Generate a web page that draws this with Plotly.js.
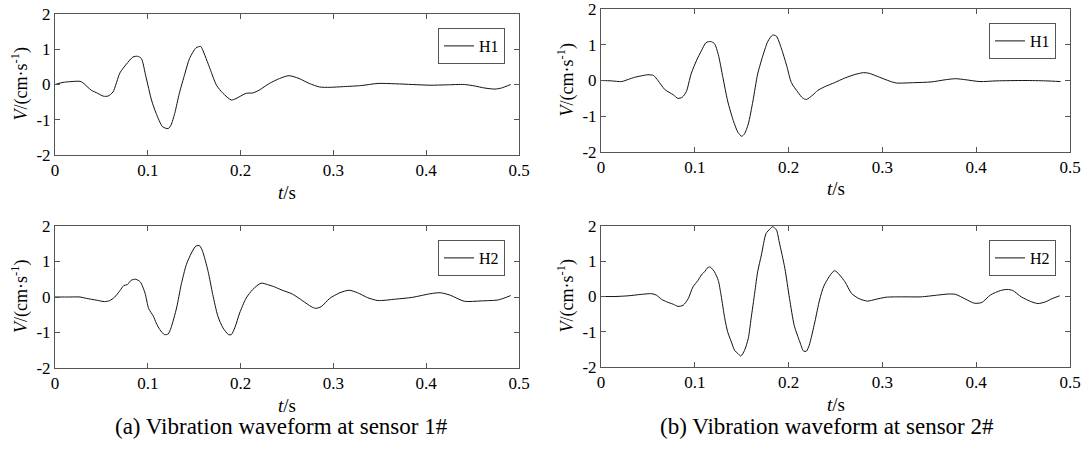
<!DOCTYPE html>
<html><head><meta charset="utf-8">
<script src="https://cdn.plot.ly/plotly-3.0.1.min.js"></script>
<style>html,body{margin:0;padding:0;background:#fff}#chart{width:1084px;height:450px}</style>
</head><body><div id="chart"></div>
<script>
// Sensor 1#, H1
const t1H1 = [0,0.0086,0.016,0.027,0.030,0.039,0.046,0.052,0.057,0.0625,0.070,0.077,0.084,0.089,0.093,0.098,0.104,0.109,0.116,0.122,0.125,0.129,0.134,0.140,0.145,0.152,0.157,0.159,0.167,0.174,0.181,0.190,0.195,0.206,0.213,0.220,0.231,0.242,0.252,0.263,0.274,0.285,0.296,0.311,0.33,0.348,0.367,0.385,0.404,0.422,0.441,0.452,0.463,0.474,0.481,0.491];
const v1H1 = [0,0.06,0.08,0.09,0.05,-0.16,-0.25,-0.33,-0.33,-0.21,0.33,0.58,0.78,0.80,0.74,0.22,-0.44,-0.82,-1.20,-1.25,-1.15,-0.82,-0.25,0.31,0.74,1.04,1.08,0.99,0.45,-0.02,-0.25,-0.44,-0.40,-0.25,-0.24,-0.16,0.03,0.17,0.25,0.17,0.03,-0.07,-0.08,-0.06,-0.03,0.03,0.02,0.0,-0.02,-0.01,0.0,-0.04,-0.10,-0.13,-0.10,0.0];
// Sensor 1#, H2
const t1H2 = [0,0.016,0.027,0.034,0.045,0.0535,0.059,0.064,0.070,0.074,0.078,0.082,0.087,0.092,0.097,0.101,0.106,0.109,0.113,0.118,0.122,0.125,0.131,0.136,0.1415,0.147,0.152,0.156,0.159,0.165,0.170,0.1755,0.181,0.187,0.190,0.194,0.199,0.206,0.213,0.222,0.229,0.237,0.244,0.256,0.267,0.276,0.281,0.287,0.296,0.307,0.317,0.326,0.337,0.348,0.367,0.385,0.404,0.415,0.426,0.441,0.459,0.478,0.491];
const v1H2 = [0,0,0,-0.04,-0.09,-0.13,-0.10,-0.01,0.18,0.32,0.35,0.47,0.50,0.42,0.11,-0.33,-0.54,-0.73,-0.92,-1.06,-1.04,-0.87,-0.31,0.35,0.91,1.24,1.44,1.44,1.29,0.72,0.07,-0.54,-0.87,-1.06,-1.06,-0.85,-0.45,-0.03,0.21,0.39,0.35,0.28,0.20,0.08,-0.11,-0.27,-0.32,-0.27,-0.04,0.12,0.19,0.12,-0.02,-0.10,-0.06,-0.01,0.09,0.12,0.05,-0.12,-0.11,-0.08,0.04];
// Sensor 2#, H1
const t2H1 = [0,0.011,0.022,0.029,0.036,0.043,0.050,0.056,0.061,0.068,0.077,0.082,0.0865,0.091,0.096,0.102,0.107,0.112,0.117,0.121,0.125,0.130,0.135,0.141,0.146,0.150,0.153,0.157,0.162,0.167,0.173,0.178,0.183,0.187,0.192,0.198,0.203,0.210,0.215,0.219,0.226,0.231,0.238,0.249,0.26,0.271,0.28,0.286,0.297,0.308,0.315,0.334,0.352,0.367,0.378,0.389,0.404,0.422,0.452,0.474,0.49];
const v2H1 = [0,-0.01,-0.03,0.03,0.09,0.13,0.16,0.14,-0.01,-0.25,-0.40,-0.50,-0.47,-0.31,0.18,0.57,0.83,1.06,1.09,1.03,0.73,0.08,-0.57,-1.12,-1.45,-1.56,-1.49,-1.22,-0.57,0.18,0.73,1.10,1.27,1.24,0.92,0.41,-0.06,-0.33,-0.49,-0.53,-0.40,-0.28,-0.18,-0.06,0.07,0.17,0.22,0.20,0.09,-0.02,-0.07,-0.06,-0.04,0.02,0.05,0.02,-0.03,-0.01,0,-0.01,-0.03];
// Sensor 2#, H2
const t2H2 = [0,0.015,0.029,0.043,0.054,0.059,0.0645,0.070,0.077,0.082,0.0875,0.093,0.098,0.1035,0.107,0.111,0.113,0.116,0.118,0.121,0.125,0.128,0.132,0.135,0.139,0.1425,0.146,0.149,0.153,0.157,0.160,0.164,0.167,0.171,0.176,0.180,0.183,0.187,0.190,0.196,0.201,0.206,0.212,0.216,0.219,0.222,0.228,0.233,0.238,0.249,0.26,0.267,0.275,0.284,0.293,0.304,0.322,0.341,0.359,0.37,0.378,0.389,0.398,0.406,0.415,0.426,0.433,0.439,0.448,0.459,0.466,0.474,0.481,0.489];
const v2H2 = [0,0,0.02,0.06,0.08,0.04,-0.08,-0.15,-0.22,-0.28,-0.25,-0.06,0.27,0.46,0.61,0.72,0.80,0.84,0.80,0.70,0.46,0.04,-0.63,-1.0,-1.29,-1.53,-1.62,-1.69,-1.53,-1.19,-0.63,0.13,0.70,1.18,1.79,1.91,1.98,1.89,1.55,0.80,-0.06,-0.82,-1.29,-1.55,-1.55,-1.38,-0.72,-0.10,0.32,0.73,0.42,0.09,-0.06,-0.13,-0.08,-0.02,-0.01,-0.01,0.04,0.07,0.06,-0.08,-0.19,-0.17,0.04,0.17,0.20,0.17,-0.01,-0.15,-0.20,-0.15,-0.06,0.02];

const xTicks = [0,0.1,0.2,0.3,0.4,0.5];
const xTickText = ['0','0.1','0.2','0.3','0.4','0.5'];
const yTicks = [-2,-1,0,1,2];
const yTickText = ['-2','-1','0','1','2'];
const seriesNames = ['H1','H2'];
const captions = ['(a) Vibration waveform at sensor 1#','(b) Vibration waveform at sensor 2#'];

const FONT = '"Liberation Serif", "Times New Roman", serif';
const W = 1084, H = 450;
const px = v => v / W, py = v => 1 - v / H;

// panel boxes in pixels: [left, right, top, bottom]
const panels = [
  {x:'x', y:'y', box:[55,519,14,155], t:t1H1, v:v1H1, name:seriesNames[0], leg:'legend'},
  {x:'x2', y:'y2', box:[601,1070,9,152], t:t2H1, v:v2H1, name:seriesNames[0], leg:'legend2'},
  {x:'x3', y:'y3', box:[55,519,226,368], t:t1H2, v:v1H2, name:seriesNames[1], leg:'legend3'},
  {x:'x4', y:'y4', box:[601,1070,226,367], t:t2H2, v:v2H2, name:seriesNames[1], leg:'legend4'}
];

const data = panels.map(p => ({
  type:'scatter', mode:'lines', x:p.t, y:p.v, xaxis:p.x, yaxis:p.y, name:p.name,
  legend:p.leg, line:{color:'#111', width:1, shape:'spline', smoothing:0.7}
}));

const layout = {
  width:W, height:H, margin:{l:0,r:0,t:0,b:0},
  paper_bgcolor:'#fff', plot_bgcolor:'#fff',
  font:{family:FONT, size:15, color:'#000'},
  annotations:[], showlegend:true
};

panels.forEach((p,i) => {
  const sfx = i === 0 ? '' : String(i+1);
  const [l,r,t,b] = p.box;
  const common = {
    ticks:'inside', ticklen:5, tickcolor:'#555', tickwidth:1,
    showline:true, linecolor:'#555', linewidth:1, mirror:'ticks',
    showgrid:false, zeroline:false, ticklabeloverflow:'allow',
    tickfont:{family:FONT,size:17,color:'#000'}
  };
  layout['xaxis'+sfx] = Object.assign({
    domain:[px(l), px(r)], range:[0,0.5], anchor:'y'+sfx,
    tickmode:'array', tickvals:xTicks, ticktext:xTickText
  }, common);
  layout['yaxis'+sfx] = Object.assign({
    domain:[py(b), py(t)], range:[-2,2], anchor:'x'+sfx,
    tickmode:'array', tickvals:yTicks, ticktext:yTickText
  }, common);
  const legKey = i === 0 ? 'legend' : 'legend'+(i+1);
  layout[legKey] = {
    x:px(r-14), y:py(t+14), xanchor:'right', yanchor:'top',
    bgcolor:'#fff', bordercolor:'#555', borderwidth:1,
    font:{family:FONT,size:16,color:'#000'},
    itemwidth:30, tracegroupgap:0
  };
  // x axis title
  layout.annotations.push({
    xref:'paper', yref:'paper', x:px((l+r)/2), y:py(b+37), xanchor:'center', yanchor:'middle',
    text:'<i>t</i>/s', showarrow:false, font:{family:FONT,size:19,color:'#000'}
  });
  // y axis title
  layout.annotations.push({
    xref:'paper', yref:'paper', x:px(l-35), y:py((t+b)/2), xanchor:'center', yanchor:'middle',
    text:'<i>V</i>/(cm·s<sup>-1</sup>)', textangle:-90, showarrow:false,
    font:{family:FONT,size:18,color:'#000'}
  });
});

const capOffsets = [-6, -9];
captions.forEach((c,i) => {
  const p = panels[i+2];
  layout.annotations.push({
    xref:'paper', yref:'paper', x:px((p.box[0]+p.box[1])/2 + capOffsets[i]), y:py(426), xanchor:'center', yanchor:'middle',
    text:c, showarrow:false, font:{family:FONT,size:23,color:'#000'}
  });
});

Plotly.newPlot('chart', data, layout, {staticPlot:true, displayModeBar:false});
</script>
</body></html>
